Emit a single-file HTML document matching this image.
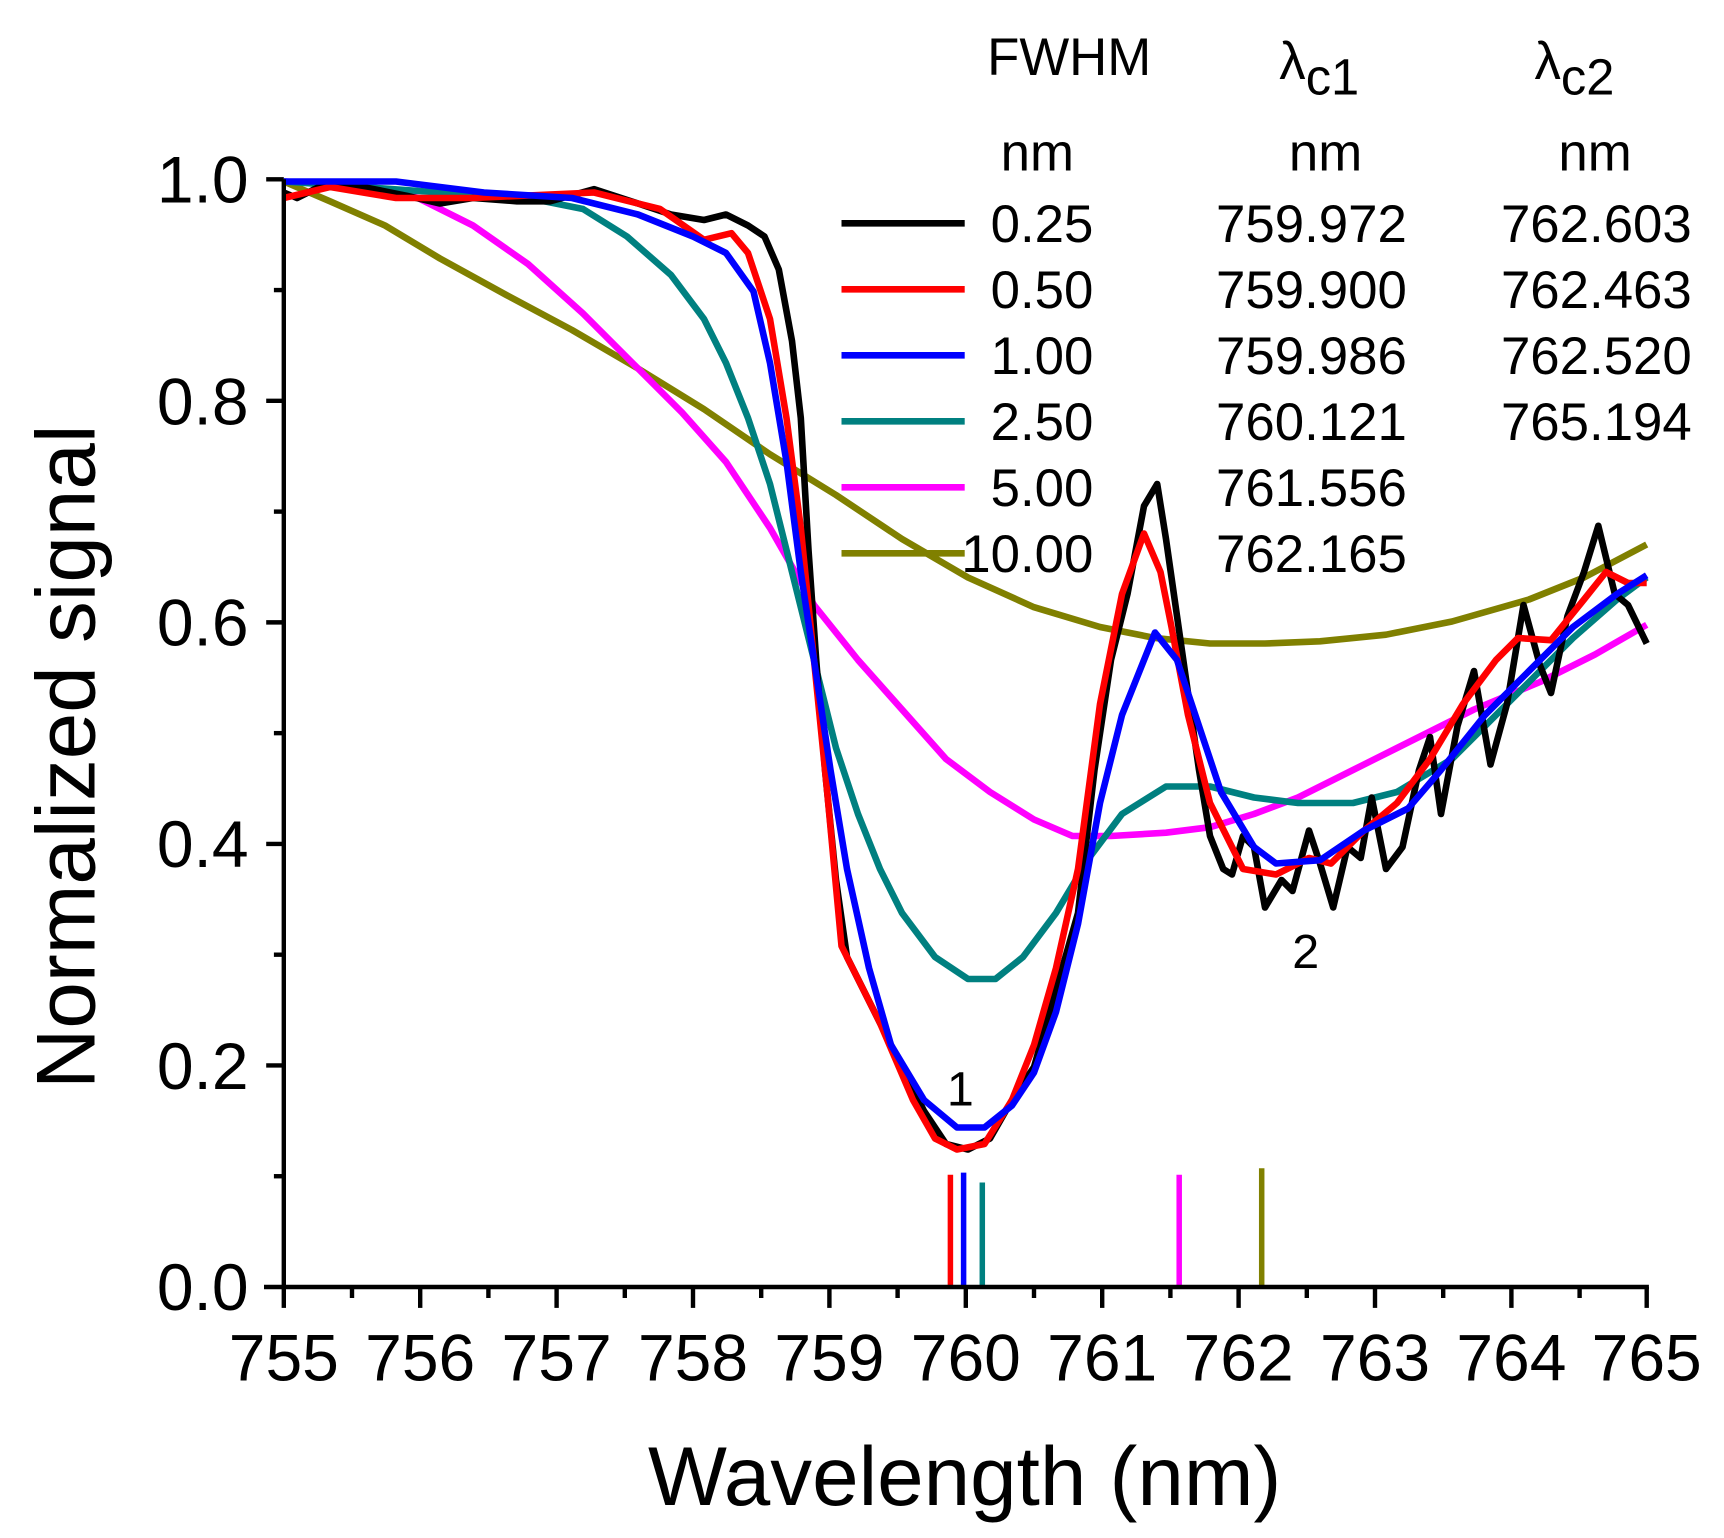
<!DOCTYPE html>
<html><head><meta charset="utf-8"><style>html,body{margin:0;padding:0;background:#fff}svg{display:block}text{font-family:"Liberation Sans",Arial,sans-serif;fill:#000}</style></head>
<body>
<svg width="1724" height="1538" viewBox="0 0 1567.27 1398.18" xmlns="http://www.w3.org/2000/svg">
<g fill="none" stroke-linejoin="round" stroke-width="6">
<polyline stroke="#808000" points="258,165 300,183 350,205 400,235 460,268 520,300 580,335 640,372 700,413 760,450 820,490 880,525 940,552 1000,570 1050,580 1100,585 1150,585 1200,583 1260,577 1320,565 1390,545 1440,525 1497,495"/>
<polyline stroke="#ff00ff" points="258,165 330,168 380,180 430,205 480,240 530,285 580,335 620,375 660,420 700,480 740,550 780,600 820,645 860,690 900,720 940,745 975,760 1010,760 1060,757 1100,752 1140,740 1180,725 1230,700 1280,675 1340,645 1400,620 1450,595 1497,568"/>
<polyline stroke="#008080" points="258,165 400,175 480,180 530,190 570,215 610,250 640,290 660,330 680,380 700,440 720,520 740,600 760,680 780,740 800,790 820,830 850,870 880,890 905,890 930,870 960,830 990,780 1020,740 1060,715 1100,715 1140,725 1180,730 1230,730 1270,720 1320,690 1380,630 1430,580 1470,545 1497,525"/>
<polyline stroke="#000000" points="258,175 270,180 290,170 330,170 370,178 400,185 430,180 470,183 500,183 540,172 580,185 610,195 640,200 660,195 680,205 695,215 708,245 720,310 728,380 735,500 742,600 750,700 760,800 770,870 785,900 800,930 820,970 840,1010 860,1040 880,1045 900,1035 920,1000 940,970 960,900 980,830 995,700 1010,600 1025,540 1040,460 1052,440 1060,490 1070,560 1080,630 1090,700 1100,760 1112,790 1120,795 1130,760 1140,770 1150,825 1165,800 1175,810 1190,755 1200,785 1212,825 1225,770 1237,780 1247,725 1260,790 1275,770 1290,700 1300,670 1310,740 1325,660 1340,610 1355,695 1370,640 1385,550 1400,605 1410,630 1425,560 1440,520 1453,478 1468,540 1480,550 1497,585"/>
<polyline stroke="#ff0000" points="258,180 300,170 360,180 430,180 540,175 600,190 640,218 665,212 680,230 700,290 715,380 728,480 740,600 752,720 765,860 780,890 800,930 830,1000 850,1035 870,1045 895,1040 920,1000 940,950 960,880 980,790 1000,640 1020,540 1040,485 1055,520 1065,570 1080,650 1100,730 1130,790 1160,795 1190,780 1210,785 1240,755 1270,730 1300,690 1330,640 1360,600 1380,580 1410,582 1440,545 1460,520 1480,530 1497,530"/>
<polyline stroke="#0000ff" points="258,165 360,165 440,175 520,180 580,195 630,215 660,230 685,265 700,330 715,420 728,520 740,600 755,700 770,790 790,880 810,950 840,1000 870,1025 895,1025 920,1005 940,975 960,920 980,840 1000,730 1020,650 1050,575 1070,600 1090,660 1110,720 1140,770 1160,785 1200,782 1240,755 1280,735 1310,700 1350,650 1390,610 1430,570 1470,540 1497,523"/>
</g>
<g stroke-width="5">
<line x1="864" y1="1068" x2="864" y2="1170" stroke="#ff0000"/>
<line x1="876" y1="1066" x2="876" y2="1170" stroke="#0000ff"/>
<line x1="893" y1="1075" x2="893" y2="1170" stroke="#008080"/>
<line x1="1072" y1="1068" x2="1072" y2="1170" stroke="#ff00ff"/>
<line x1="1147" y1="1062" x2="1147" y2="1170" stroke="#808000"/>
</g>
<g stroke="#000" stroke-width="4">
<line x1="258" y1="163" x2="258" y2="1172"/>
<line x1="240" y1="1170" x2="1499" y2="1170"/>
<line x1="242" y1="163" x2="258" y2="163"/><line x1="242" y1="364.4" x2="258" y2="364.4"/><line x1="242" y1="565.8" x2="258" y2="565.8"/><line x1="242" y1="767.2" x2="258" y2="767.2"/><line x1="242" y1="968.6" x2="258" y2="968.6"/>
<line x1="249" y1="263.7" x2="258" y2="263.7"/><line x1="249" y1="465.1" x2="258" y2="465.1"/><line x1="249" y1="666.5" x2="258" y2="666.5"/><line x1="249" y1="867.9" x2="258" y2="867.9"/><line x1="249" y1="1069.3" x2="258" y2="1069.3"/>
<line x1="258" y1="1170" x2="258" y2="1189"/><line x1="382" y1="1170" x2="382" y2="1189"/><line x1="506" y1="1170" x2="506" y2="1189"/><line x1="630" y1="1170" x2="630" y2="1189"/><line x1="754" y1="1170" x2="754" y2="1189"/><line x1="878" y1="1170" x2="878" y2="1189"/><line x1="1002" y1="1170" x2="1002" y2="1189"/><line x1="1126" y1="1170" x2="1126" y2="1189"/><line x1="1250" y1="1170" x2="1250" y2="1189"/><line x1="1374" y1="1170" x2="1374" y2="1189"/><line x1="1497" y1="1170" x2="1497" y2="1189"/>
<line x1="320" y1="1170" x2="320" y2="1180"/><line x1="444" y1="1170" x2="444" y2="1180"/><line x1="568" y1="1170" x2="568" y2="1180"/><line x1="692" y1="1170" x2="692" y2="1180"/><line x1="816" y1="1170" x2="816" y2="1180"/><line x1="940" y1="1170" x2="940" y2="1180"/><line x1="1064" y1="1170" x2="1064" y2="1180"/><line x1="1188" y1="1170" x2="1188" y2="1180"/><line x1="1312" y1="1170" x2="1312" y2="1180"/><line x1="1436" y1="1170" x2="1436" y2="1180"/>
</g>
<g font-size="60" text-anchor="end">
<text x="226" y="184">1.0</text><text x="226" y="386">0.8</text><text x="226" y="587">0.6</text><text x="226" y="788">0.4</text><text x="226" y="990">0.2</text><text x="226" y="1191">0.0</text>
</g>
<g font-size="60" text-anchor="middle">
<text x="258" y="1255">755</text><text x="382" y="1255">756</text><text x="506" y="1255">757</text><text x="630" y="1255">758</text><text x="754" y="1255">759</text><text x="878" y="1255">760</text><text x="1002" y="1255">761</text><text x="1126" y="1255">762</text><text x="1250" y="1255">763</text><text x="1374" y="1255">764</text><text x="1497" y="1255">765</text>
</g>
<text x="877" y="1368" font-size="76" text-anchor="middle">Wavelength (nm)</text>
<text transform="translate(86,688) rotate(-90)" font-size="76" text-anchor="middle">Normalized signal</text>
<text x="873" y="1005" font-size="44" text-anchor="middle">1</text>
<text x="1187" y="880" font-size="44" text-anchor="middle">2</text>
<g font-size="48">
<text x="972" y="68" text-anchor="middle">FWHM</text>
<text x="943" y="155" text-anchor="middle">nm</text>
<text x="1163" y="72">λ<tspan font-size="46" dy="14">c1</tspan></text>
<text x="1205" y="155" text-anchor="middle">nm</text>
<text x="1395" y="72">λ<tspan font-size="46" dy="14">c2</tspan></text>
<text x="1450" y="155" text-anchor="middle">nm</text>
</g>
<g stroke-width="6">
<line x1="765" y1="203" x2="877" y2="203" stroke="#000"/>
<line x1="765" y1="263" x2="877" y2="263" stroke="#ff0000"/>
<line x1="765" y1="323" x2="877" y2="323" stroke="#0000ff"/>
<line x1="765" y1="383" x2="877" y2="383" stroke="#008080"/>
<line x1="765" y1="443" x2="877" y2="443" stroke="#ff00ff"/>
<line x1="765" y1="503" x2="877" y2="503" stroke="#808000"/>
</g>
<g font-size="48" text-anchor="end">
<text x="994" y="220">0.25</text><text x="1279" y="220">759.972</text><text x="1538" y="220">762.603</text>
<text x="994" y="280">0.50</text><text x="1279" y="280">759.900</text><text x="1538" y="280">762.463</text>
<text x="994" y="340">1.00</text><text x="1279" y="340">759.986</text><text x="1538" y="340">762.520</text>
<text x="994" y="400">2.50</text><text x="1279" y="400">760.121</text><text x="1538" y="400">765.194</text>
<text x="994" y="460">5.00</text><text x="1279" y="460">761.556</text>
<text x="994" y="520">10.00</text><text x="1279" y="520">762.165</text>
</g>
</svg>
</body></html>
